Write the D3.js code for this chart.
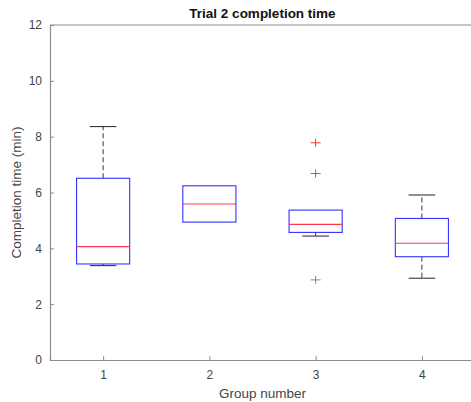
<!DOCTYPE html>
<html>
<head>
<meta charset="utf-8">
<script src="https://cdn.jsdelivr.net/npm/d3@7"></script>
<style>
  html, body { margin: 0; padding: 0; background: #fff; }
  svg { display: block; }
  text { font-family: "Liberation Sans", Arial, sans-serif; }
</style>
</head>
<body>
<svg id="chart" width="471" height="402"></svg>
<script>
const groups = ["1", "2", "3", "4"];
const whiskerLow = [3.38, 4.94, 4.44, 2.93];
const q1 = [3.44, 4.94, 4.57, 3.70];
const medians = [4.06, 5.59, 4.86, 4.18];
const q3 = [6.51, 6.24, 5.37, 5.07];
const whiskerHigh = [8.36, 6.24, 5.37, 5.91];
const outlierGroups = ["3", "3", "3"];
const outlierValues = [7.78, 6.68, 2.87];
const outlierColors = ["#ff3030", "#e04040", "#888888"];
const yTicks = [0, 2, 4, 6, 8, 10, 12];

const svg = d3.select("#chart");
const mLeft = 50, mRight = 475, mTop = 25, mBottom = 360;

const x = d3.scaleLinear().domain([0.5, 4.5]).range([mLeft, mRight]);
const y = d3.scaleLinear().domain([0, 12]).range([mBottom, mTop]);
const gx = g => x(groups.indexOf(g) + 1);
const boxW = x(1.25) - x(1);   // half box width in px
const capW = x(1.125) - x(1);

const axisColor = "#8c8c8c";
const textColor = "#444";

// frame top line
svg.append("line").attr("x1", mLeft).attr("x2", mRight).attr("y1", mTop).attr("y2", mTop)
  .attr("stroke", axisColor).attr("stroke-width", 1.2);

// Y axis
const yAxis = d3.axisLeft(y).tickValues(yTicks).tickSize(-4).tickPadding(8).tickFormat(d3.format("d"));
const ya = svg.append("g").attr("transform", `translate(${mLeft},0)`).call(yAxis);
ya.select(".domain").attr("stroke", axisColor).attr("stroke-width", 1.2);
ya.selectAll(".tick line").attr("stroke", axisColor);
ya.selectAll(".tick text").attr("fill", textColor).style("font-size", "12px");

// X axis
const xAxis = d3.axisBottom(x).tickValues([1, 2, 3, 4]).tickSize(-4).tickPadding(10).tickFormat(d => groups[d - 1]);
const xa = svg.append("g").attr("transform", `translate(0,${mBottom})`).call(xAxis);
xa.select(".domain").attr("stroke", axisColor).attr("stroke-width", 1.2);
xa.selectAll(".tick line").attr("stroke", axisColor);
xa.selectAll(".tick text").attr("fill", textColor).style("font-size", "12px");

// Boxes
const data = groups.map((g, i) => ({g, lo: whiskerLow[i], q1: q1[i], med: medians[i], q3: q3[i], hi: whiskerHigh[i]}));
const bg = svg.append("g").selectAll("g").data(data).join("g");

// whiskers (dashed) and caps, only where the whisker extends beyond the box
bg.filter(d => d.hi > d.q3).append("line").attr("x1", d => gx(d.g)).attr("x2", d => gx(d.g))
  .attr("y1", d => y(d.q3)).attr("y2", d => y(d.hi))
  .attr("stroke", "#222").attr("stroke-width", 0.9).attr("stroke-dasharray", "5,3");
bg.filter(d => d.lo < d.q1).append("line").attr("x1", d => gx(d.g)).attr("x2", d => gx(d.g))
  .attr("y1", d => y(d.q1)).attr("y2", d => y(d.lo))
  .attr("stroke", "#222").attr("stroke-width", 0.9).attr("stroke-dasharray", "5,3");
bg.filter(d => d.hi > d.q3).append("line").attr("x1", d => gx(d.g) - capW).attr("x2", d => gx(d.g) + capW)
  .attr("y1", d => y(d.hi)).attr("y2", d => y(d.hi))
  .attr("stroke", "#222").attr("stroke-width", 1);
bg.filter(d => d.lo < d.q1).append("line").attr("x1", d => gx(d.g) - capW).attr("x2", d => gx(d.g) + capW)
  .attr("y1", d => y(d.lo)).attr("y2", d => y(d.lo))
  .attr("stroke", "#222").attr("stroke-width", 1);
// box
bg.append("rect").attr("x", d => gx(d.g) - boxW).attr("width", 2 * boxW)
  .attr("y", d => y(d.q3)).attr("height", d => y(d.q1) - y(d.q3))
  .attr("fill", "none").attr("stroke", "#3333ff").attr("stroke-width", 1.1);
// median
bg.append("line").attr("x1", d => gx(d.g) - boxW).attr("x2", d => gx(d.g) + boxW)
  .attr("y1", d => y(d.med)).attr("y2", d => y(d.med))
  .attr("stroke", "#ff3355").attr("stroke-width", 1.1);

// outliers
const od = outlierValues.map((v, i) => ({g: outlierGroups[i], v, c: outlierColors[i]}));
const og = svg.append("g").selectAll("g").data(od).join("g")
  .attr("transform", d => `translate(${gx(d.g)},${y(d.v)})`);
og.append("line").attr("x1", -5).attr("x2", 5).attr("y1", 0).attr("y2", 0).attr("stroke", d => d.c).attr("stroke-width", 1);
og.append("line").attr("x1", 0).attr("x2", 0).attr("y1", -4).attr("y2", 4).attr("stroke", d => d.c).attr("stroke-width", 1);

// Title
svg.append("text").attr("x", (mLeft + mRight) / 2).attr("y", 18).attr("text-anchor", "middle")
  .style("font-size", "13.5px").style("font-weight", "bold").attr("fill", "#111")
  .text("Trial 2 completion time");

// X label
svg.append("text").attr("x", (mLeft + mRight) / 2).attr("y", 398).attr("text-anchor", "middle")
  .style("font-size", "13.5px").attr("fill", textColor).text("Group number");

// Y label
svg.append("text").attr("transform", `translate(21,${(mTop + mBottom) / 2}) rotate(-90)`)
  .attr("text-anchor", "middle").style("font-size", "13.5px").attr("fill", textColor)
  .text("Completion time (min)");
</script>
</body>
</html>
